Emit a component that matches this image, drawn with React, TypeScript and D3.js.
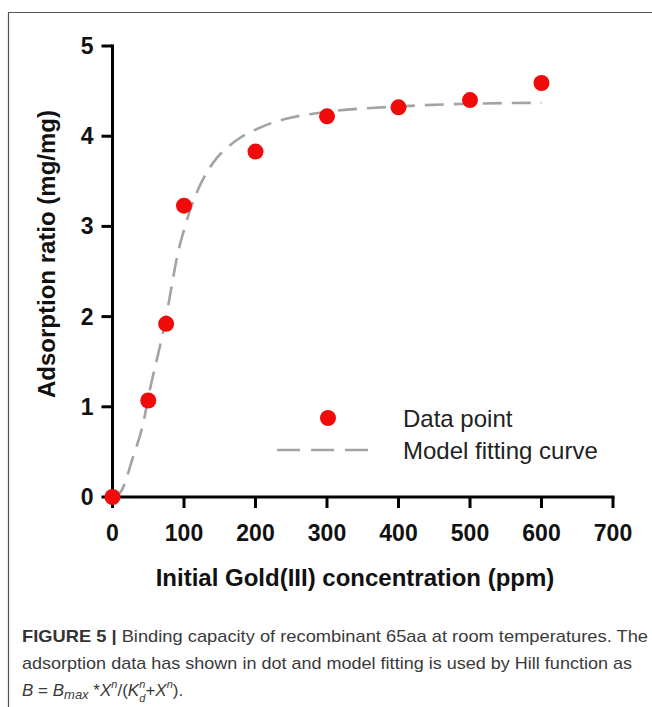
import React from "react";
import * as d3 from "d3";

// measured points (initial Au(III) ppm vs adsorption ratio mg/mg)
const concentration = [0, 50, 75, 100, 200, 300, 400, 500, 600];
const adsorption = [0, 1.07, 1.92, 3.23, 3.83, 4.22, 4.32, 4.4, 4.59];

// Hill model fitting curve
const fitX = [0, 10, 29, 43, 52, 64, 74, 83, 90, 101, 115, 132, 146, 160, 178, 202, 224, 252, 300, 400, 500, 600];
const fitY = [0, 0.04, 0.45, 0.82, 1.18, 1.59, 1.95, 2.35, 2.65, 2.99, 3.32, 3.6, 3.76, 3.87, 3.98, 4.08, 4.15, 4.21, 4.27, 4.33, 4.36, 4.37];

const xTicks = [0, 100, 200, 300, 400, 500, 600, 700];
const yTicks = [0, 1, 2, 3, 4, 5];

const App = () => {
  const x = d3.scaleLinear().domain([0, 700]).range([112.5, 613]);
  const y = d3.scaleLinear().domain([0, 5]).range([497, 46]);

  const line = d3
    .line<number>()
    .x((d, i) => x(fitX[i]))
    .y((d, i) => y(fitY[i]))
    .curve(d3.curveMonotoneX);

  const font = "'Liberation Sans', Arial, sans-serif";
  const red = "#f00a0a";
  const grey = "#a3a3a3";

  return (
    <svg
      width={652}
      height={707}
      style={{ position: "absolute", left: 0, top: 0, background: "#fff" }}
      fontFamily={font}
    >
      {/* frame */}
      <path d="M8.5,707 V12.5 H652" fill="none" stroke="#555" strokeWidth={1.2} />

      {/* fit curve */}
      <path
        d={line(fitY) || ""}
        fill="none"
        stroke={grey}
        strokeWidth={2.6}
        strokeDasharray="19,10"
      />

      {/* axes */}
      <g stroke="#000" strokeWidth={3} fill="none">
        <line x1={x(0)} x2={x(0)} y1={y(5) - 1.5} y2={y(0) + 1.5} />
        <line x1={x(0) - 1.5} x2={x(700) + 1.5} y1={y(0)} y2={y(0)} />
        {yTicks.map((t) => (
          <line key={"yt" + t} x1={x(0) - 11} x2={x(0)} y1={y(t)} y2={y(t)} />
        ))}
        {xTicks.map((t) => (
          <line key={"xt" + t} x1={x(t)} x2={x(t)} y1={y(0)} y2={y(0) + 11} />
        ))}
      </g>
      <g fontWeight="bold" fontSize={23} fill="#111">
        {yTicks.map((t) => (
          <text key={"yl" + t} x={x(0) - 19} y={y(t)} textAnchor="end" dominantBaseline="central">
            {t}
          </text>
        ))}
        {xTicks.map((t) => (
          <text key={"xl" + t} x={x(t)} y={y(0) + 44} textAnchor="middle">
            {t}
          </text>
        ))}
      </g>

      {/* data points */}
      {concentration.map((c, i) => (
        <circle key={"p" + i} cx={x(c)} cy={y(adsorption[i])} r={8} fill={red} />
      ))}

      {/* axis titles */}
      <text
        transform={`translate(46,254) rotate(-90)`}
        textAnchor="middle"
        dominantBaseline="central"
        fontWeight="bold"
        fontSize={24}
        fill="#111"
      >
        Adsorption ratio (mg/mg)
      </text>
      <text x={355} y={586} textAnchor="middle" fontWeight="bold" fontSize={24} fill="#111">
        Initial Gold(III) concentration (ppm)
      </text>

      {/* legend */}
      <circle cx={328} cy={418} r={8} fill={red} />
      <text x={403} y={418} dominantBaseline="central" fontSize={24} fill="#222">
        Data point
      </text>
      <line x1={277} x2={368} y1={450} y2={450} stroke={grey} strokeWidth={2.6} strokeDasharray="23,11" />
      <text x={403} y={450} dominantBaseline="central" fontSize={24} fill="#222">
        Model fitting curve
      </text>

      {/* caption */}
      <g fontSize={17} fill="#3a3a3a">
        <text x={22} y={642} textLength={626} lengthAdjust="spacingAndGlyphs">
          <tspan fontWeight="bold" fill="#333">FIGURE 5 |</tspan> Binding capacity of recombinant 65aa at room temperatures. The
        </text>
        <text x={22} y={669} textLength={610} lengthAdjust="spacingAndGlyphs">
          adsorption data has shown in dot and model fitting is used by Hill function as
        </text>
        <text x={22} y={696}>
          <tspan fontStyle="italic">B</tspan> = <tspan fontStyle="italic">B</tspan>
          <tspan fontStyle="italic" fontSize={13} dy={3}>max</tspan>
          <tspan dy={-3}> *</tspan>
          <tspan fontStyle="italic">X</tspan>
          <tspan fontStyle="italic" fontSize={11} dy={-8}>n</tspan>
          <tspan dy={8}>/(</tspan>
          <tspan fontStyle="italic">K</tspan>
          <tspan fontStyle="italic" fontSize={11} dy={-8}>n</tspan>
          <tspan fontStyle="italic" fontSize={11} dx={-6} dy={14}>d</tspan>
          <tspan dy={-6}>+</tspan>
          <tspan fontStyle="italic">X</tspan>
          <tspan fontStyle="italic" fontSize={11} dy={-8}>n</tspan>
          <tspan dy={8}>).</tspan>
        </text>
      </g>
    </svg>
  );
};

export default App;
